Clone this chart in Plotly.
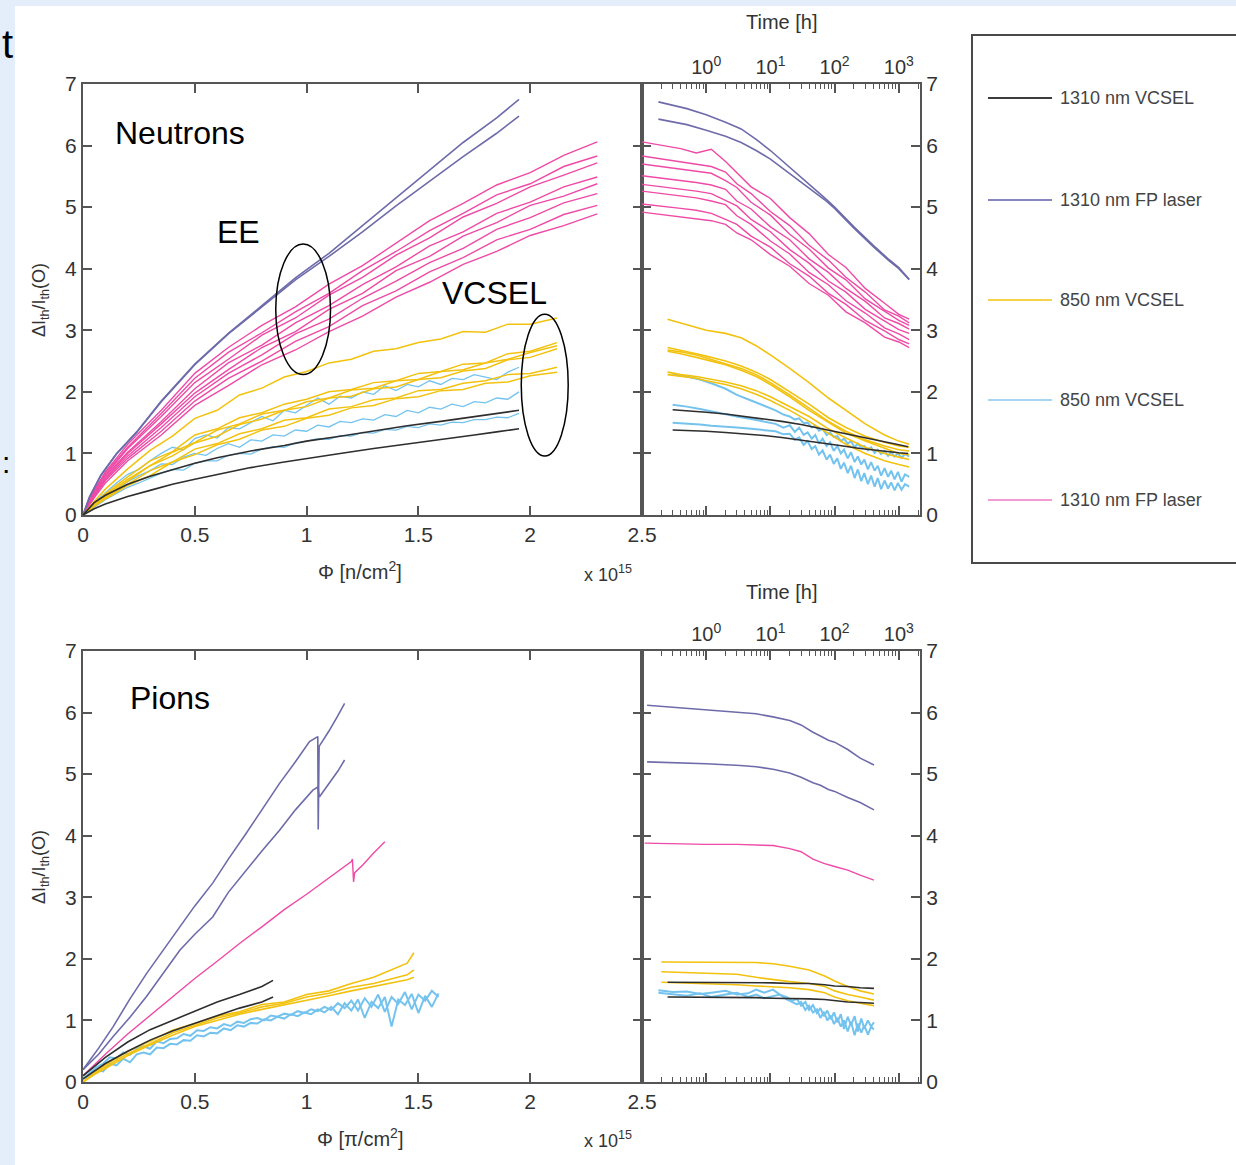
import plotly.graph_objects as go

W, H = 1236, 1165

# ---------------------------------------------------------------------------
# Device families (legend order) and their line colours
# ---------------------------------------------------------------------------
series_names = ["1310 nm VCSEL", "1310 nm FP laser", "850 nm VCSEL",
                "850 nm VCSEL", "1310 nm FP laser"]
series_colors = ["#2e2e2e", "#6e6baa", "#f2c20f", "#74c3ef", "#ee4aa6"]
legend_colors = ["#3c3c3c", "#8886bf", "#f4d24a", "#a6d6f4", "#f29ad4"]

# ---------------------------------------------------------------------------
# Neutron irradiation: dIth/Ith(0) versus fluence (units of 1e15 n/cm^2)
# ---------------------------------------------------------------------------
n_fp_x = [0, 0.03, 0.08, 0.15, 0.24, 0.35, 0.5, 0.65, 0.8, 0.95, 1.1, 1.25,
          1.4, 1.55, 1.7, 1.85, 1.95]
n_fp_1 = [0, 0.3, 0.65, 1.0, 1.35, 1.85, 2.45, 2.95, 3.4, 3.85, 4.25, 4.7,
          5.15, 5.6, 6.05, 6.45, 6.75]
n_fp_2 = [0, 0.3, 0.64, 0.99, 1.34, 1.84, 2.44, 2.94, 3.38, 3.82, 4.2, 4.6,
          5.02, 5.42, 5.82, 6.2, 6.48]

n_pk_x = [0, 0.05, 0.1, 0.2, 0.35, 0.5, 0.65, 0.8, 0.95, 1.1, 1.25, 1.4,
          1.55, 1.7, 1.85, 2.0, 2.15, 2.3]
n_pk = [
    [0, 0.4, 0.7, 1.15, 1.7, 2.3, 2.72, 3.08, 3.38, 3.75, 4.05, 4.42, 4.78, 5.06, 5.36, 5.56, 5.84, 6.06],
    [0, 0.38, 0.68, 1.1, 1.65, 2.22, 2.64, 2.96, 3.3, 3.6, 3.97, 4.28, 4.62, 4.9, 5.2, 5.38, 5.66, 5.83],
    [0, 0.36, 0.65, 1.08, 1.6, 2.15, 2.53, 2.92, 3.2, 3.57, 3.86, 4.22, 4.5, 4.84, 5.06, 5.33, 5.52, 5.72],
    [0, 0.35, 0.63, 1.02, 1.52, 2.05, 2.47, 2.76, 3.12, 3.4, 3.74, 4.03, 4.37, 4.6, 4.9, 5.08, 5.33, 5.49],
    [0, 0.33, 0.6, 1.0, 1.48, 1.98, 2.36, 2.72, 2.98, 3.34, 3.6, 3.97, 4.2, 4.53, 4.75, 5.03, 5.18, 5.38],
    [0, 0.32, 0.58, 0.96, 1.42, 1.92, 2.3, 2.6, 2.94, 3.18, 3.52, 3.8, 4.1, 4.33, 4.64, 4.83, 5.07, 5.22],
    [0, 0.3, 0.56, 0.92, 1.36, 1.85, 2.22, 2.5, 2.82, 3.06, 3.4, 3.64, 3.95, 4.18, 4.47, 4.64, 4.88, 5.03],
    [0, 0.28, 0.52, 0.88, 1.3, 1.78, 2.1, 2.44, 2.68, 2.98, 3.23, 3.54, 3.78, 4.07, 4.28, 4.54, 4.7, 4.89],
]

n_yl_x = [0, 0.05, 0.1, 0.2, 0.3, 0.4, 0.5, 0.6, 0.7, 0.8, 0.9, 1.0, 1.1,
          1.2, 1.3, 1.4, 1.5, 1.6, 1.7, 1.8, 1.9, 2.0, 2.12]
n_yl = [
    [0, 0.22, 0.42, 0.75, 1.05, 1.28, 1.57, 1.7, 1.95, 2.06, 2.24, 2.33, 2.47, 2.53, 2.66, 2.7, 2.8, 2.86, 2.98, 2.97, 3.1, 3.1, 3.2],
    [0, 0.18, 0.35, 0.62, 0.88, 1.03, 1.3, 1.4, 1.58, 1.66, 1.8, 1.88, 2.0, 2.04, 2.15, 2.18, 2.3, 2.33, 2.45, 2.47, 2.62, 2.66, 2.8],
    [0, 0.17, 0.33, 0.58, 0.8, 1.02, 1.18, 1.38, 1.48, 1.64, 1.7, 1.84, 1.9, 2.03, 2.06, 2.18, 2.2, 2.33, 2.36, 2.47, 2.53, 2.64, 2.75],
    [0, 0.16, 0.3, 0.55, 0.8, 0.96, 1.17, 1.28, 1.47, 1.56, 1.7, 1.76, 1.9, 1.93, 2.05, 2.08, 2.2, 2.23, 2.34, 2.38, 2.52, 2.56, 2.7],
    [0, 0.15, 0.28, 0.5, 0.72, 0.86, 1.07, 1.16, 1.32, 1.4, 1.54, 1.58, 1.72, 1.76, 1.87, 1.9, 2.02, 2.04, 2.14, 2.18, 2.28, 2.3, 2.4],
    [0, 0.14, 0.26, 0.48, 0.64, 0.86, 0.98, 1.14, 1.23, 1.38, 1.44, 1.57, 1.62, 1.74, 1.78, 1.89, 1.92, 2.02, 2.04, 2.14, 2.16, 2.26, 2.32],
]

n_bl_x = [0, 0.05, 0.1, 0.15, 0.2, 0.25, 0.3, 0.35, 0.4, 0.45, 0.5, 0.55,
          0.6, 0.65, 0.7, 0.75, 0.8, 0.85, 0.9, 0.95, 1.0, 1.05, 1.1, 1.15,
          1.2, 1.25, 1.3, 1.35, 1.4, 1.45, 1.5, 1.55, 1.6, 1.65, 1.7, 1.75,
          1.8, 1.85, 1.9, 1.95]
n_bl = [
    [0, 0.2, 0.36, 0.52, 0.66, 0.74, 0.88, 1.0, 1.1, 1.06, 1.24, 1.3, 1.25, 1.42, 1.4, 1.5, 1.6, 1.53, 1.7, 1.66,
     1.78, 1.9, 1.8, 1.93, 1.9, 2.0, 1.96, 2.1, 2.02, 2.12, 2.08, 2.18, 2.12, 2.22, 2.2, 2.28, 2.24, 2.2, 2.32, 2.4],
    [0, 0.15, 0.3, 0.42, 0.54, 0.64, 0.72, 0.83, 0.82, 0.94, 1.0, 0.97, 1.08, 1.16, 1.1, 1.22, 1.2, 1.3, 1.28, 1.38,
     1.36, 1.46, 1.43, 1.52, 1.5, 1.56, 1.54, 1.63, 1.6, 1.7, 1.66, 1.75, 1.72, 1.8, 1.76, 1.84, 1.82, 1.9, 1.88, 2.0],
    [0, 0.12, 0.25, 0.35, 0.45, 0.52, 0.6, 0.68, 0.74, 0.73, 0.84, 0.88, 0.88, 0.97, 1.0, 0.99, 1.07, 1.11, 1.1, 1.17,
     1.2, 1.24, 1.23, 1.29, 1.28, 1.34, 1.33, 1.39, 1.38, 1.44, 1.42, 1.48, 1.46, 1.51, 1.5, 1.55, 1.55, 1.59, 1.58, 1.65],
]

n_vc_x = [0, 0.05, 0.1, 0.2, 0.3, 0.4, 0.5, 0.6, 0.75, 0.9, 1.0, 1.15,
          1.3, 1.45, 1.6, 1.75, 1.85, 1.95]
n_vc_1 = [0, 0.2, 0.32, 0.5, 0.63, 0.74, 0.84, 0.93, 1.04, 1.13, 1.2, 1.28,
          1.37, 1.45, 1.52, 1.6, 1.65, 1.7]
n_vc_2 = [0, 0.1, 0.18, 0.3, 0.4, 0.5, 0.58, 0.66, 0.77, 0.86, 0.92, 1.0,
          1.08, 1.15, 1.22, 1.3, 1.35, 1.4]

# ---------------------------------------------------------------------------
# Neutron samples: annealing versus time [h]
# ---------------------------------------------------------------------------
na_fp_t = [0.18, 0.3, 0.5, 1, 2, 3.5, 6, 10, 20, 40, 70, 100, 200, 400,
           700, 1000, 1450]
na_fp_1 = [6.71, 6.66, 6.6, 6.5, 6.38, 6.27, 6.1, 5.92, 5.65, 5.38, 5.15,
           5.0, 4.68, 4.38, 4.15, 4.02, 3.83]
na_fp_2 = [6.43, 6.39, 6.34, 6.25, 6.15, 6.05, 5.92, 5.78, 5.55, 5.32, 5.12,
           4.98, 4.66, 4.36, 4.13, 4.0, 3.82]

na_pk_t = [0.1, 0.2, 0.4, 0.7, 1.2, 2, 3, 5, 10, 20, 40, 80, 150, 300, 600,
           1000, 1450]
na_pk = [
    [6.06, 6.0, 5.95, 5.88, 5.94, 5.74, 5.56, 5.33, 5.14, 4.83, 4.57, 4.23, 4.02, 3.68, 3.44, 3.26, 3.18],
    [5.83, 5.78, 5.74, 5.7, 5.66, 5.57, 5.38, 5.22, 4.93, 4.7, 4.38, 4.14, 3.86, 3.62, 3.33, 3.23, 3.12],
    [5.7, 5.66, 5.62, 5.58, 5.55, 5.43, 5.32, 5.08, 4.87, 4.56, 4.32, 4.01, 3.82, 3.51, 3.31, 3.16, 3.08],
    [5.51, 5.47, 5.44, 5.4, 5.36, 5.29, 5.1, 4.97, 4.68, 4.47, 4.16, 3.94, 3.68, 3.47, 3.2, 3.11, 3.02],
    [5.37, 5.33, 5.3, 5.26, 5.22, 5.11, 5.02, 4.8, 4.6, 4.31, 4.09, 3.8, 3.62, 3.34, 3.15, 3.01, 2.95],
    [5.26, 5.22, 5.18, 5.15, 5.1, 5.04, 4.86, 4.72, 4.45, 4.24, 3.94, 3.74, 3.48, 3.28, 3.04, 2.94, 2.85],
    [5.05, 5.01, 4.98, 4.95, 4.9, 4.8, 4.72, 4.53, 4.35, 4.08, 3.88, 3.6, 3.42, 3.16, 2.99, 2.85, 2.78],
    [4.92, 4.88, 4.85, 4.82, 4.78, 4.72, 4.58, 4.47, 4.23, 4.04, 3.76, 3.57, 3.3, 3.12, 2.89, 2.81, 2.72],
]

na_yl_t = [0.25, 0.4, 0.7, 1, 2, 3.5, 6, 10, 20, 40, 80, 150, 300, 600,
           1000, 1450]
na_yl = [
    [3.18, 3.12, 3.05, 3.0, 2.95, 2.88, 2.75, 2.6, 2.38, 2.15, 1.9, 1.7, 1.48, 1.3, 1.2, 1.15],
    [2.72, 2.68, 2.62, 2.58, 2.5, 2.42, 2.32, 2.2, 2.0, 1.8, 1.58, 1.42, 1.28, 1.18, 1.12, 1.1],
    [2.68, 2.65, 2.6, 2.55, 2.46, 2.38, 2.28, 2.15, 1.95, 1.74, 1.52, 1.36, 1.22, 1.12, 1.06, 1.04],
    [2.66, 2.62, 2.56, 2.52, 2.44, 2.35, 2.25, 2.12, 1.92, 1.7, 1.5, 1.33, 1.2, 1.08, 1.0, 0.98],
    [2.32, 2.28, 2.25, 2.22, 2.16, 2.1, 2.02, 1.92, 1.76, 1.6, 1.4, 1.25, 1.1, 1.0, 0.94, 0.9],
    [2.28, 2.25, 2.22, 2.18, 2.12, 2.05, 1.96, 1.86, 1.7, 1.52, 1.32, 1.15, 1.0, 0.88, 0.82, 0.78],
]

na_bl_t = [0.3, 0.5, 0.8, 1.2, 2, 3, 5, 8, 12, 16, 20, 24, 28, 33, 38, 44,
           50, 57, 65, 75, 85, 97, 110, 125, 140, 160, 180, 205, 230, 260,
           290, 330, 370, 420, 470, 530, 600, 680, 760, 860, 970, 1100, 1250,
           1450]
na_bl = [
    [2.28, 2.25, 2.2, 2.14, 2.05, 1.95, 1.86, 1.78, 1.7, 1.63, 1.6, 1.55, 1.57, 1.49, 1.5, 1.42, 1.45, 1.37,
     1.4, 1.3, 1.34, 1.27, 1.28, 1.2, 1.24, 1.16, 1.2, 1.1, 1.16, 1.09, 1.12, 1.05, 1.1, 1.01, 1.06, 0.99,
     1.04, 0.96, 1.02, 0.95, 1.0, 0.93, 0.99, 0.95],
    [1.79, 1.76, 1.72, 1.68, 1.64, 1.6, 1.56, 1.52, 1.48, 1.42, 1.46, 1.35, 1.42, 1.3, 1.34, 1.24, 1.3, 1.16,
     1.24, 1.12, 1.18, 1.04, 1.12, 1.0, 1.06, 0.92, 1.02, 0.86, 0.95, 0.82, 0.9, 0.74, 0.86, 0.72, 0.8, 0.64,
     0.76, 0.62, 0.72, 0.58, 0.7, 0.54, 0.66, 0.62],
    [1.5, 1.49, 1.47, 1.45, 1.44, 1.42, 1.4, 1.38, 1.36, 1.31, 1.32, 1.22, 1.26, 1.14, 1.2, 1.07, 1.12, 0.98,
     1.05, 0.9, 0.98, 0.83, 0.92, 0.75, 0.85, 0.68, 0.8, 0.6, 0.74, 0.55, 0.68, 0.5, 0.64, 0.46, 0.6, 0.42,
     0.56, 0.43, 0.53, 0.4, 0.52, 0.41, 0.5, 0.46],
]

na_vc_t = [0.3, 0.6, 1, 2, 4, 8, 15, 30, 60, 120, 250, 500, 1000, 1400]
na_vc_1 = [1.71, 1.69, 1.67, 1.64, 1.6, 1.56, 1.52, 1.47, 1.41, 1.34, 1.27,
           1.2, 1.14, 1.11]
na_vc_2 = [1.38, 1.37, 1.36, 1.34, 1.32, 1.29, 1.26, 1.22, 1.18, 1.13, 1.08,
           1.04, 1.01, 1.0]

# ---------------------------------------------------------------------------
# Pion irradiation: dIth/Ith(0) versus fluence (units of 1e15 pi/cm^2)
# ---------------------------------------------------------------------------
p_fp_1_x = [0, 0.07, 0.135, 0.21, 0.284, 0.36, 0.433, 0.5, 0.58, 0.65, 0.73,
            0.8, 0.879, 0.95, 1.013, 1.05, 1.052, 1.056, 1.1, 1.14, 1.17]
p_fp_1 = [0.2, 0.55, 0.9, 1.35, 1.76, 2.15, 2.52, 2.86, 3.23, 3.62, 4.04,
          4.42, 4.85, 5.2, 5.53, 5.61, 4.1, 5.45, 5.7, 5.95, 6.15]
p_fp_2_x = [0, 0.07, 0.135, 0.21, 0.284, 0.36, 0.433, 0.5, 0.58, 0.65, 0.73,
            0.8, 0.879, 0.95, 1.028, 1.05, 1.057, 1.1, 1.14, 1.17]
p_fp_2 = [0.2, 0.45, 0.74, 1.05, 1.39, 1.78, 2.14, 2.4, 2.68, 3.08, 3.44,
          3.75, 4.09, 4.42, 4.74, 4.79, 4.63, 4.85, 5.05, 5.23]

p_pk_x = [0, 0.1, 0.2, 0.3, 0.4, 0.5, 0.6, 0.7, 0.8, 0.9, 1.0, 1.1, 1.2,
          1.205, 1.21, 1.215, 1.25, 1.3, 1.35]
p_pk = [0.1, 0.45, 0.78, 1.08, 1.38, 1.68, 1.96, 2.25, 2.52, 2.8, 3.05, 3.32,
        3.58, 3.62, 3.25, 3.4, 3.52, 3.72, 3.9]

p_yl_x = [0, 0.05, 0.1, 0.2, 0.3, 0.4, 0.5, 0.6, 0.7, 0.8, 0.9, 1.0, 1.1,
          1.2, 1.3, 1.4, 1.45, 1.48]
p_yl = [
    [0, 0.15, 0.28, 0.5, 0.66, 0.84, 0.95, 1.07, 1.14, 1.26, 1.3, 1.42, 1.48, 1.6, 1.7, 1.85, 1.93, 2.1],
    [0, 0.13, 0.25, 0.46, 0.62, 0.8, 0.92, 1.04, 1.12, 1.22, 1.28, 1.38, 1.44, 1.54, 1.6, 1.7, 1.74, 1.82],
    [0, 0.12, 0.22, 0.43, 0.6, 0.76, 0.9, 1.0, 1.1, 1.18, 1.25, 1.33, 1.4, 1.48, 1.55, 1.62, 1.66, 1.7],
]

p_bl_x = [0, 0.03, 0.06, 0.09, 0.12, 0.15, 0.18, 0.21, 0.24, 0.27, 0.3, 0.33,
          0.36, 0.39, 0.42, 0.45, 0.48, 0.51, 0.54, 0.57, 0.6, 0.63, 0.66,
          0.69, 0.72, 0.75, 0.78, 0.81, 0.84, 0.87, 0.9, 0.93, 0.96, 0.99,
          1.02, 1.05, 1.08, 1.11, 1.14, 1.17, 1.2, 1.23, 1.26, 1.29, 1.32,
          1.35, 1.38, 1.41, 1.44, 1.47, 1.5, 1.53, 1.56, 1.59]
p_bl = [
    [0.05, 0.14, 0.24, 0.3, 0.4, 0.38, 0.48, 0.44, 0.54, 0.58, 0.54, 0.66, 0.63, 0.7, 0.71, 0.78, 0.75, 0.84,
     0.83, 0.89, 0.87, 0.94, 0.91, 0.98, 0.96, 1.02, 1.04, 1.0, 1.08, 1.06, 1.11, 1.09, 1.15, 1.12, 1.18, 1.15,
     1.22, 1.17, 1.28, 1.2, 1.32, 1.16, 1.36, 1.22, 1.42, 1.14, 1.38, 1.27, 1.46, 1.18, 1.42, 1.32, 1.48, 1.38],
    [0.05, 0.1, 0.19, 0.17, 0.3, 0.27, 0.38, 0.32, 0.45, 0.48, 0.45, 0.56, 0.55, 0.62, 0.61, 0.68, 0.67, 0.76,
     0.74, 0.8, 0.79, 0.87, 0.84, 0.92, 0.9, 0.96, 0.95, 1.02, 1.0, 1.06, 1.03, 1.1, 1.07, 1.13, 1.1, 1.18,
     1.13, 1.22, 1.1, 1.28, 1.16, 1.34, 1.04, 1.3, 1.2, 1.38, 0.9, 1.34, 1.25, 1.43, 1.12, 1.4, 1.22, 1.44],
]

p_vc_x = [0, 0.1, 0.2, 0.3, 0.4, 0.5, 0.6, 0.7, 0.8, 0.85]
p_vc_1 = [0.1, 0.4, 0.65, 0.85, 1.0, 1.15, 1.3, 1.42, 1.55, 1.65]
p_vc_2 = [0.05, 0.3, 0.5, 0.68, 0.83, 0.95, 1.08, 1.2, 1.3, 1.38]

# ---------------------------------------------------------------------------
# Pion samples: annealing versus time [h]
# ---------------------------------------------------------------------------
pa_fp_t = [0.12, 0.3, 1, 3.4, 6, 11, 20, 30, 46, 60, 80, 100, 160, 250, 410]
pa_fp_1 = [6.12, 6.09, 6.05, 6.0, 5.98, 5.93, 5.87, 5.8, 5.68, 5.62, 5.55,
           5.52, 5.4, 5.26, 5.15]
pa_fp_2 = [5.2, 5.19, 5.17, 5.14, 5.12, 5.08, 5.02, 4.95, 4.86, 4.82, 4.75,
           4.72, 4.62, 4.54, 4.42]

pa_pk_t = [0.11, 0.3, 1, 3, 6, 11, 20, 30, 46, 68, 100, 160, 250, 410]
pa_pk = [3.88, 3.87, 3.86, 3.86, 3.85, 3.84, 3.79, 3.74, 3.62, 3.55, 3.5,
         3.44, 3.36, 3.28]

pa_yl_t = [0.2, 0.5, 1, 3, 6, 11, 20, 40, 70, 100, 160, 250, 410]
pa_yl = [
    [1.95, 1.95, 1.95, 1.95, 1.94, 1.92, 1.88, 1.82, 1.72, 1.64, 1.55, 1.48, 1.43],
    [1.79, 1.78, 1.77, 1.75, 1.7, 1.66, 1.63, 1.6, 1.55, 1.48, 1.42, 1.38, 1.33],
    [1.62, 1.61, 1.6, 1.58, 1.56, 1.55, 1.53, 1.5, 1.45, 1.38, 1.32, 1.28, 1.24],
]

pa_bl_t = [0.18, 0.3, 0.5, 0.8, 1.2, 2, 3, 4.5, 6, 8, 11, 14, 18, 22, 26, 30,
           35, 40, 46, 53, 60, 68, 77, 87, 98, 110, 125, 140, 160, 180, 205,
           230, 260, 290, 330, 370, 410]
pa_bl = [
    [1.49, 1.46, 1.47, 1.43, 1.45, 1.48, 1.42, 1.44, 1.5, 1.45, 1.5, 1.42, 1.38, 1.32, 1.35, 1.24, 1.3, 1.17,
     1.25, 1.12, 1.2, 1.07, 1.16, 1.02, 1.13, 0.97, 1.1, 0.86, 1.06, 0.92, 1.07, 0.82, 1.03, 0.87, 1.0, 0.9, 0.97],
    [1.45, 1.43, 1.4, 1.44, 1.38, 1.42, 1.45, 1.38, 1.42, 1.36, 1.4, 1.42, 1.34, 1.3, 1.26, 1.3, 1.17, 1.24,
     1.13, 1.18, 1.04, 1.14, 1.0, 1.08, 0.94, 1.04, 0.9, 1.0, 0.82, 0.98, 0.76, 0.95, 0.8, 0.92, 0.77, 0.9, 0.85],
]

pa_vc_t = [0.25, 0.5, 1, 3, 6, 11, 20, 40, 70, 100, 160, 250, 410]
pa_vc_1 = [1.62, 1.62, 1.62, 1.62, 1.61, 1.61, 1.6, 1.6, 1.58, 1.56, 1.55,
           1.53, 1.52]
pa_vc_2 = [1.38, 1.38, 1.38, 1.37, 1.37, 1.36, 1.36, 1.35, 1.34, 1.32, 1.3,
           1.29, 1.28]

# ---------------------------------------------------------------------------
# Tick labels
# ---------------------------------------------------------------------------
phi_ticks = [0, 0.5, 1, 1.5, 2, 2.5]
phi_ticktext = ["0", "0.5", "1", "1.5", "2", "2.5"]
y_ticks = [0, 1, 2, 3, 4, 5, 6, 7]
time_ticks = [1, 10, 100, 1000]
time_ticktext = ["10<sup>0</sup>", "10<sup>1</sup>", "10<sup>2</sup>", "10<sup>3</sup>"]
time_minor = [0.2, 0.3, 0.4, 0.5, 0.6, 0.7, 0.8, 0.9,
              2, 3, 4, 5, 6, 7, 8, 9,
              20, 30, 40, 50, 60, 70, 80, 90,
              200, 300, 400, 500, 600, 700, 800, 900, 2000]

# ---------------------------------------------------------------------------
fig = go.Figure()

BLACK, PURPLE, YELLOW, BLUE, PINK = series_colors


def add_line(x, y, color, xa, ya, width=1.6):
    fig.add_trace(go.Scatter(x=x, y=y, mode="lines", xaxis=xa, yaxis=ya,
                             line=dict(color=color, width=width),
                             showlegend=False, hoverinfo="skip"))


# neutrons vs fluence
for ys in n_pk:
    add_line(n_pk_x, ys, PINK, "x", "y", 1.4)
add_line(n_fp_x, n_fp_1, PURPLE, "x", "y")
add_line(n_fp_x, n_fp_2, PURPLE, "x", "y")
for ys in n_bl:
    add_line(n_bl_x, ys, BLUE, "x", "y", 1.3)
for ys in n_yl:
    add_line(n_yl_x, ys, YELLOW, "x", "y", 1.5)
add_line(n_vc_x, n_vc_1, BLACK, "x", "y")
add_line(n_vc_x, n_vc_2, BLACK, "x", "y")

# neutrons vs time
for ys in na_pk:
    add_line(na_pk_t, ys, PINK, "x2", "y2", 1.4)
add_line(na_fp_t, na_fp_1, PURPLE, "x2", "y2")
add_line(na_fp_t, na_fp_2, PURPLE, "x2", "y2")
for ys in na_bl:
    add_line(na_bl_t, ys, BLUE, "x2", "y2", 2.0)
for ys in na_yl:
    add_line(na_yl_t, ys, YELLOW, "x2", "y2", 1.6)
add_line(na_vc_t, na_vc_1, BLACK, "x2", "y2")
add_line(na_vc_t, na_vc_2, BLACK, "x2", "y2")

# pions vs fluence
add_line(p_pk_x, p_pk, PINK, "x3", "y3", 1.4)
add_line(p_fp_1_x, p_fp_1, PURPLE, "x3", "y3")
add_line(p_fp_2_x, p_fp_2, PURPLE, "x3", "y3")
for ys in p_bl:
    add_line(p_bl_x, ys, BLUE, "x3", "y3", 2.0)
for ys in p_yl:
    add_line(p_yl_x, ys, YELLOW, "x3", "y3", 1.6)
add_line(p_vc_x, p_vc_1, BLACK, "x3", "y3")
add_line(p_vc_x, p_vc_2, BLACK, "x3", "y3")

# pions vs time
add_line(pa_pk_t, pa_pk, PINK, "x4", "y4", 1.4)
add_line(pa_fp_t, pa_fp_1, PURPLE, "x4", "y4")
add_line(pa_fp_t, pa_fp_2, PURPLE, "x4", "y4")
for ys in pa_bl:
    add_line(pa_bl_t, ys, BLUE, "x4", "y4", 2.0)
for ys in pa_yl:
    add_line(pa_yl_t, ys, YELLOW, "x4", "y4", 1.6)
add_line(pa_vc_t, pa_vc_1, BLACK, "x4", "y4")
add_line(pa_vc_t, pa_vc_2, BLACK, "x4", "y4")


# ---------------------------------------------------------------------------
def px(v):
    return v / W


def py(v):
    return 1 - v / H


FONT = "Liberation Sans, Arial, Helvetica, sans-serif"
AX_COL = "#555555"
TXT_COL = "#333333"

left_dom = [px(83), px(642)]
right_dom = [px(642), px(920)]
top_dom = [py(515), py(84)]
bot_dom = [py(1082), py(651)]

common = dict(showline=True, linecolor=AX_COL, linewidth=2, mirror="ticks",
              ticks="inside", ticklen=9, tickwidth=1.5, tickcolor=AX_COL,
              showgrid=False, zeroline=False, automargin=False,
              tickfont=dict(family=FONT, size=21, color=TXT_COL))


def phi_axis(dom, anchor):
    return dict(common, domain=dom, anchor=anchor, range=[0, 2.5],
                tickmode="array", tickvals=phi_ticks, ticktext=phi_ticktext)


def time_axis(dom, anchor):
    return dict(common, domain=dom, anchor=anchor, type="log",
                range=[-1, 3.33], side="top", tickmode="array",
                tickvals=time_ticks, ticktext=time_ticktext,
                tickfont=dict(family=FONT, size=20, color=TXT_COL),
                minor=dict(ticks="inside", ticklen=5, tickwidth=1,
                           tickcolor=AX_COL, tickvals=time_minor))


def y_axis(dom, anchor, side):
    return dict(common, domain=dom, anchor=anchor, range=[0, 7], side=side,
                tickmode="array", tickvals=y_ticks)


fig.update_layout(
    width=W, height=H, margin=dict(l=0, r=0, t=0, b=0, pad=0),
    autosize=False,
    paper_bgcolor="white", plot_bgcolor="rgba(0,0,0,0)",
    showlegend=False,
    xaxis=phi_axis(left_dom, "y"),
    yaxis=y_axis(top_dom, "x", "left"),
    xaxis2=time_axis(right_dom, "y2"),
    yaxis2=y_axis(top_dom, "x2", "right"),
    xaxis3=phi_axis(left_dom, "y3"),
    yaxis3=y_axis(bot_dom, "x3", "left"),
    xaxis4=time_axis(right_dom, "y4"),
    yaxis4=y_axis(bot_dom, "x4", "right"),
)

SLIDE_BLUE = "#e4eefa"
shapes = [
    # pale slide border along the top and left edges
    dict(type="rect", xref="paper", yref="paper", x0=0, x1=1,
         y0=py(6), y1=1, fillcolor=SLIDE_BLUE, line=dict(width=0),
         layer="below"),
    dict(type="rect", xref="paper", yref="paper", x0=0, x1=px(15),
         y0=0, y1=1, fillcolor=SLIDE_BLUE, line=dict(width=0),
         layer="below"),
    # legend frame
    dict(type="rect", xref="paper", yref="paper", x0=px(972), x1=px(1240),
         y0=py(563), y1=py(35), fillcolor="rgba(0,0,0,0)",
         line=dict(color="#4a4a4a", width=2)),
    # outlined groups in the neutron panel
    dict(type="circle", xref="x", yref="y", x0=0.862, x1=1.107, y0=2.28,
         y1=4.40, line=dict(color="black", width=1.5)),
    dict(type="circle", xref="x", yref="y", x0=1.96, x1=2.17, y0=0.96,
         y1=3.26, line=dict(color="black", width=1.5)),
]

legend_y = [98, 200, 300, 400, 500]
for name, col, yy in zip(series_names, legend_colors, legend_y):
    shapes.append(dict(type="line", xref="paper", yref="paper", x0=px(988),
                       x1=px(1052), y0=py(yy), y1=py(yy),
                       line=dict(color=col, width=2)))
fig.update_layout(shapes=shapes)

ann = []


def text(x, y, s, size, color=TXT_COL, xanchor="center", angle=0):
    ann.append(dict(x=px(x), y=py(y), xref="paper", yref="paper", text=s,
                    showarrow=False, xanchor=xanchor, yanchor="middle",
                    textangle=angle,
                    font=dict(family=FONT, size=size, color=color)))


for name, yy in zip(series_names, legend_y):
    text(1058, yy, name, 18, "#444444", xanchor="left")

text(360, 570, "\u03a6 [n/cm<sup>2</sup>]", 20)
text(360, 1137, "\u03a6 [\u03c0/cm<sup>2</sup>]", 20)
text(608, 574, "x 10<sup>15</sup>", 18)
text(608, 1139, "x 10<sup>15</sup>", 18)
text(782, 22, "Time [h]", 20)
text(782, 592, "Time [h]", 20)
text(40, 300, "\u0394I<sub>th</sub>/I<sub>th</sub>(O)", 18, angle=-90)
text(40, 867, "\u0394I<sub>th</sub>/I<sub>th</sub>(O)", 18, angle=-90)

text(113, 133, "Neutrons", 32, "black", "left")
text(215, 232, "EE", 32, "black", "left")
text(440, 293, "VCSEL", 32, "black", "left")
text(128, 698, "Pions", 32, "black", "left")

# fragments of slide text at the left edge
text(0, 44, "t", 40, "black", "left")
text(0, 462, ":", 30, "black", "left")

fig.update_layout(annotations=ann)

fig.write_html("out.html")
